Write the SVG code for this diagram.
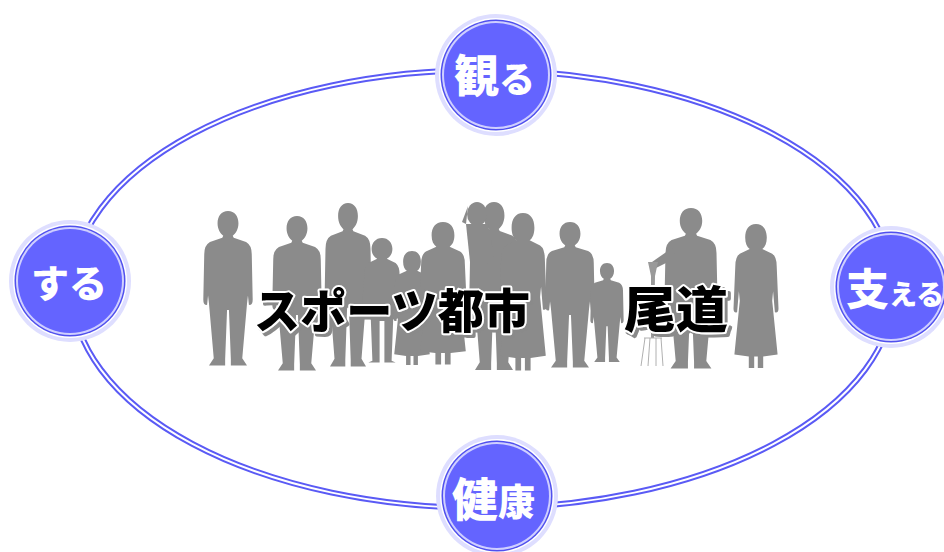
<svg xmlns="http://www.w3.org/2000/svg" xmlns:xlink="http://www.w3.org/1999/xlink" width="944" height="552" viewBox="0 0 944 552">
  <style>
    .ring-out { fill: none; stroke: #5a5af5; stroke-width: 6; }
    .ring-in { fill: none; stroke: #ffffff; stroke-width: 2; }
    .halo { fill: #dedeff; }
    .gap { fill: #ffffff; }
    .edge { fill: #5050ee; }
    .inner { fill: #cfcfff; }
    .core { fill: #6464ff; }
    .lbl { font-family: "Noto Sans CJK JP", "Noto Sans", sans-serif; font-weight: 900; fill: #ffffff; }
    .title { font-family: "Noto Sans CJK JP", "Noto Sans", sans-serif; font-weight: 900; fill: #000000; stroke: #ffffff; stroke-width: 4; paint-order: stroke; stroke-linejoin: round; }
    .crowd { fill: #8b8b8b; }
  </style>
  <defs>
    <filter id="soft" x="-5%" y="-5%" width="110%" height="110%">
      <feGaussianBlur stdDeviation="0.7"/>
    </filter>
    <filter id="shade" x="-5%" y="-10%" width="115%" height="130%">
      <feOffset in="SourceAlpha" dx="3" dy="3" result="off"/>
      <feFlood flood-color="#8a8a8a"/>
      <feComposite in2="off" operator="in" result="sh"/>
      <feMerge>
        <feMergeNode in="sh"/>
        <feMergeNode in="SourceGraphic"/>
      </feMerge>
    </filter>
    <!-- generic standing figure, head top at 0, feet at 150 -->
    <path id="man" d="M0 0 C7 0 11 5 11 12 C11 18 8 22 5 24 L6 26 L19 30 Q25 33 25 42 L26 86 Q26 92 22 91 L21 82 L20 90 L15 143 L20 150 L3 150 L3 144 L1 96 L-1 96 L-3 144 L-3 150 L-20 150 L-15 143 L-20 90 L-21 82 L-22 91 Q-26 92 -26 86 L-25 42 Q-25 33 -19 30 L-6 26 L-5 24 C-8 22 -11 18 -11 12 C-11 5 -7 0 0 0 Z"/>
    <!-- figure in a long dress -->
    <path id="dress" d="M0 0 C8 0 12 6 12 14 C12 20 10 24 7 26 L18 31 Q23 34 23 44 L25 88 Q25 93 21 92 L19 70 L18 80 L24 136 L8 138 L8 150 L2 150 L2 138 L-2 138 L-2 150 L-8 150 L-8 138 L-24 136 L-18 80 L-19 70 L-21 92 Q-25 93 -25 88 L-23 44 Q-23 34 -18 31 L-7 26 C-10 24 -12 20 -12 14 C-12 6 -8 0 0 0 Z"/>
    <!-- child in a short coat -->
    <path id="coat" d="M0 0 C8 0 13 6 13 13 C13 19 10 23 6 25 L17 30 Q22 34 22 44 L26 96 L14 98 L12 148 L17 150 L3 150 L3 100 L-3 100 L-3 150 L-17 150 L-12 148 L-14 98 L-26 96 L-22 44 Q-22 34 -17 30 L-6 25 C-10 23 -13 19 -13 13 C-13 6 -8 0 0 0 Z"/>
  </defs>

  <!-- connector: double-line ellipse joining the four themes -->
  <g id="connectors">
    <ellipse class="ring-out" cx="483" cy="289" rx="411" ry="219"/>
    <ellipse class="ring-in" cx="483" cy="289" rx="411" ry="219"/>
  </g>

  <!-- crowd silhouette -->
  <g id="crowd" class="crowd" filter="url(#soft)">
    <use xlink:href="#man" transform="translate(228,211) scale(0.95,1.03)"/>
    <use xlink:href="#man" transform="translate(297,216) scale(0.95,1.03)"/>
    <use xlink:href="#man" transform="translate(348,203) scale(0.9,1.09)"/>
    <use xlink:href="#coat" transform="translate(382,238) scale(0.8,0.83)"/>
    <use xlink:href="#dress" transform="translate(412,251) scale(0.74,0.76)"/>
    <use xlink:href="#dress" transform="translate(443,222) scale(0.95,0.95)"/>
    <use xlink:href="#man" transform="translate(494,202) scale(0.95,1.12)"/>
    <!-- child riding on shoulders -->
    <ellipse cx="477" cy="214" rx="10" ry="12"/>
    <path d="M466 224 L488 224 L494 256 L482 270 L470 262 Z"/>
    <path d="M468 206 L462 222 L466 224 Z"/>
    <use xlink:href="#dress" transform="translate(523,213) scale(0.95,1.05)"/>
    <use xlink:href="#man" transform="translate(570,222) scale(0.95,0.97)"/>
    <use xlink:href="#man" transform="translate(607,263) scale(0.64,0.66)"/>
    <use xlink:href="#man" transform="translate(691,208) scale(1.02,1.07)"/>
    <!-- arm resting on the fork handle -->
    <path d="M672 248 L652 262 L656 268 L676 258 Z"/>
    <use xlink:href="#dress" transform="translate(756,224) scale(0.9,0.96)"/>
    <!-- garden fork -->
    <path d="M648 262 L658 262 L655 276 L654 338 L651 338 L651 276 Z" fill="#9a9a9a"/>
    <g fill="none" stroke="#b0b0b0" stroke-width="1">
      <path d="M644 338 L662 338"/>
      <path d="M645 338 L641 366"/>
      <path d="M650 338 L648 366"/>
      <path d="M656 338 L656 366"/>
      <path d="M661 338 L663 366"/>
    </g>
  </g>

  <!-- title -->
  <g id="title" class="title" filter="url(#shade)">
    <text x="254" y="328" font-size="47" textLength="276" lengthAdjust="spacingAndGlyphs">スポーツ都市</text>
    <text x="624" y="328" font-size="50" textLength="104" lengthAdjust="spacingAndGlyphs">尾道</text>
  </g>

  <!-- theme nodes -->
  <g id="node-miru">
    <circle class="halo" cx="496" cy="75" r="61"/>
    <circle class="gap" cx="496" cy="75" r="57"/>
    <circle class="edge" cx="496" cy="75" r="55.5"/>
    <circle class="inner" cx="496" cy="75" r="54"/>
    <circle class="core" cx="496" cy="75" r="52"/>
    <text class="lbl" x="454" y="93" font-size="45">観<tspan font-size="36">る</tspan></text>
  </g>
  <g id="node-suru">
    <circle class="halo" cx="70" cy="281" r="61"/>
    <circle class="gap" cx="70" cy="281" r="57"/>
    <circle class="edge" cx="70" cy="281" r="55.5"/>
    <circle class="inner" cx="70" cy="281" r="54"/>
    <circle class="core" cx="70" cy="281" r="52"/>
    <text class="lbl" x="31" y="297" font-size="38">する</text>
  </g>
  <g id="node-sasaeru">
    <circle class="halo" cx="891" cy="287" r="61"/>
    <circle class="gap" cx="891" cy="287" r="57"/>
    <circle class="edge" cx="891" cy="287" r="55.5"/>
    <circle class="inner" cx="891" cy="287" r="54"/>
    <circle class="core" cx="891" cy="287" r="52"/>
    <text class="lbl" x="846" y="305" font-size="43">支<tspan font-size="28">える</tspan></text>
  </g>
  <g id="node-kenkou">
    <circle class="halo" cx="497" cy="496" r="61"/>
    <circle class="gap" cx="497" cy="496" r="57"/>
    <circle class="edge" cx="497" cy="496" r="55.5"/>
    <circle class="inner" cx="497" cy="496" r="54"/>
    <circle class="core" cx="497" cy="496" r="52"/>
    <text class="lbl" x="452" y="516" font-size="46">健<tspan font-size="37">康</tspan></text>
  </g>
</svg>
